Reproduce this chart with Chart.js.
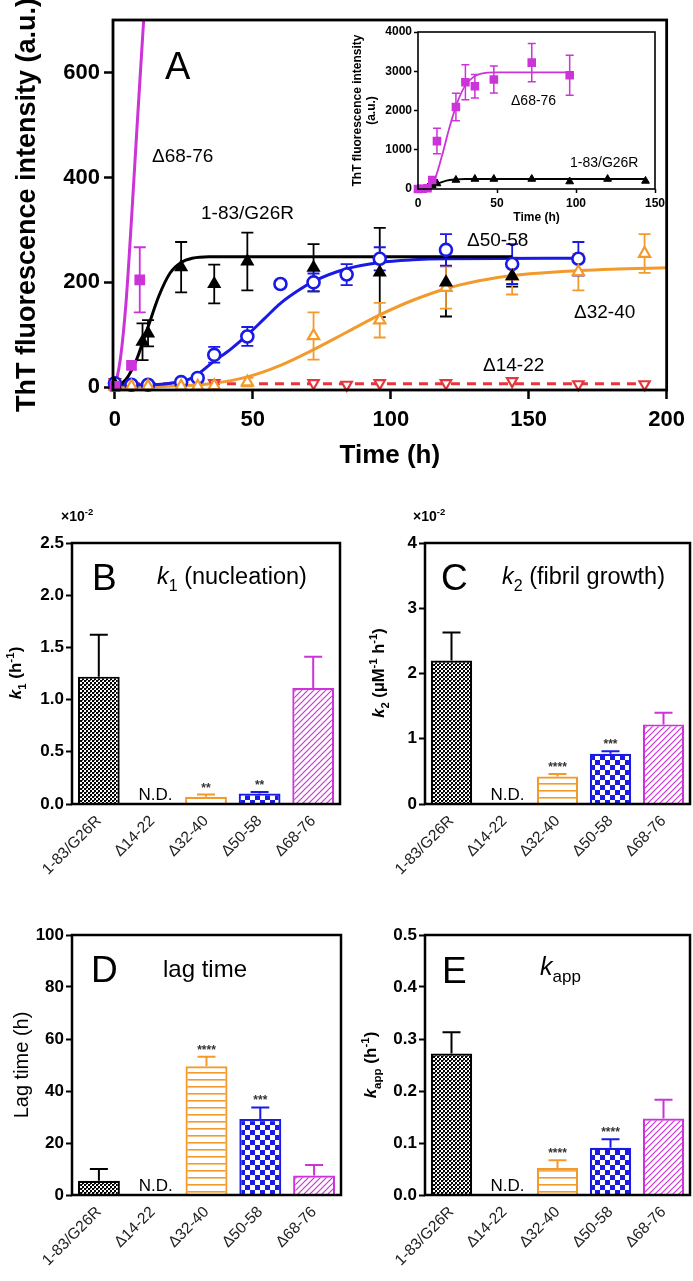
<!DOCTYPE html>
<html><head><meta charset="utf-8">
<script src="https://cdn.jsdelivr.net/npm/chart.js@4.4.1/dist/chart.umd.min.js"></script>
<style>
html,body{margin:0;padding:0;background:#fff;width:693px;height:1281px;overflow:hidden;position:relative;}
canvas{position:absolute;}
</style></head><body>
<canvas id="cA" width="693" height="480" style="left:0;top:0"></canvas>
<canvas id="cIn" width="363" height="235" style="left:330px;top:0"></canvas>
<canvas id="cB" width="346" height="385" style="left:0;top:500px"></canvas>
<canvas id="cC" width="348" height="385" style="left:345px;top:500px"></canvas>
<canvas id="cD" width="346" height="401" style="left:0;top:880px"></canvas>
<canvas id="cE" width="348" height="401" style="left:345px;top:880px"></canvas>
<script>
// ================= DATA =================
// Panel A main plot
const aXTicks = [0, 50, 100, 150, 200];
const aYTicks = [0, 200, 400, 600];

const g26rT = [0, 10, 12, 24, 36, 48, 72, 96, 120, 144];
const g26rY = [5, 87, 103, 229, 197, 240, 228, 219, 200, 212];
const g26rE = [3, 35, 25, 48, 37, 55, 45, 85, 65, 20];
const g26rFitT = [0, 4, 8, 10, 12, 16, 20, 24, 28, 34, 144];
const g26rFitY = [0, 15, 55, 85, 115, 175, 218, 238, 246, 249, 249];

const d5058T = [0, 6, 12, 24, 30, 36, 48, 60, 72, 84, 96, 120, 144, 168];
const d5058Y = [8, 5, 5, 10, 18, 62, 97, 197, 200, 215, 245, 262, 235, 245];
const d5058E = [0, 0, 0, 0, 0, 15, 18, 6, 17, 20, 22, 30, 38, 32];
const d5058FitT = [0, 10, 20, 28, 36, 42, 48, 54, 60, 66, 72, 84, 96, 108, 120, 168];
const d5058FitY = [5, 5, 8, 18, 50, 73, 100, 130, 160, 183, 202, 226, 238, 243, 245, 246];

const d3240T = [0, 6, 12, 24, 30, 36, 48, 72, 96, 120, 144, 168, 192];
const d3240Y = [2, 2, 2, 2, 2, 3, 10, 98, 128, 190, 212, 220, 255];
const d3240E = [0, 0, 0, 0, 0, 0, 8, 45, 33, 40, 35, 35, 37];
const d3240FitT = [0, 24, 36, 48, 60, 72, 84, 96, 108, 120, 132, 144, 160, 180, 200];
const d3240FitY = [0, 3, 8, 20, 42, 72, 105, 138, 166, 188, 203, 213, 220, 225, 228];

const d1422T = [0, 36, 72, 84, 96, 120, 144, 168, 192];
const d1422Y = [10, 8, 8, 5, 8, 8, 12, 6, 6];
const d1422FitT = [0, 192];
const d1422FitY = [7, 7];

const d6876T = [0, 6, 9];
const d6876Y = [2, 42, 205];
const d6876E = [0, 0, 62];
const d6876FitT = [0, 2, 4, 6, 8, 10, 11.5];
const d6876FitY = [0, 55, 160, 320, 495, 665, 790];

// Panel A inset
const inXTicks = [0, 50, 100, 150];
const inYTicks = [0, 1000, 2000, 3000, 4000];
const inMagT = [0, 3, 6, 9, 12, 24, 30, 36, 48, 72, 96];
const inMagY = [0, 5, 20, 230, 1220, 2090, 2720, 2620, 2790, 3220, 2900];
const inMagE = [0, 0, 0, 0, 325, 350, 445, 300, 345, 490, 510];
const inMagFitT = [0, 5, 10, 15, 20, 25, 30, 35, 40, 50, 96];
const inMagFitY = [0, 40, 190, 820, 1580, 2220, 2640, 2850, 2940, 2970, 2970];
const inG26T = [0, 6, 9, 12, 24, 36, 48, 72, 96, 120, 144];
const inG26Y = [0, 30, 90, 140, 230, 254, 254, 254, 190, 254, 205];
const inG26FitT = [0, 6, 12, 18, 24, 30, 144];
const inG26FitY = [0, 30, 130, 215, 245, 255, 255];

// Panels B-E
const barLabels = ['1-83/G26R', 'Δ14-22', 'Δ32-40', 'Δ50-58', 'Δ68-76'];
const k1Vals = [1.22, null, 0.07, 0.10, 1.11];      // x10^-2 h^-1
const k1Errs = [0.40, null, 0.02, 0.015, 0.30];
const k1Sig  = ['', '', '**', '**', ''];
const k2Vals = [2.20, null, 0.42, 0.77, 1.22];      // x10^-2 uM^-1 h^-1
const k2Errs = [0.43, null, 0.04, 0.04, 0.18];
const k2Sig  = ['', '', '****', '***', ''];
const lagVals = [5.5, null, 49.5, 29.2, 7.5];       // h
const lagErrs = [4.5, null, 3.7, 4.5, 4.0];
const lagSig  = ['', '', '****', '***', ''];
const kappVals = [0.272, null, 0.052, 0.091, 0.147]; // h^-1
const kappErrs = [0.041, null, 0.015, 0.016, 0.036];
const kappSig  = ['', '', '****', '****', ''];
const k1Ticks = [0, 0.5, 1.0, 1.5, 2.0, 2.5];
const k2Ticks = [0, 1, 2, 3, 4];
const lagTicks = [0, 20, 40, 60, 80, 100];
const kappTicks = [0, 0.1, 0.2, 0.3, 0.4, 0.5];

// ================= HELPERS =================
const FONT = "'Liberation Sans', Arial, Helvetica, sans-serif";
const BLACK = '#000000', BLUE = '#1a1ae6', ORANGE = '#f39a2c', RED = '#e8343c', MAG = '#cc33d9';

function xy(t, y) { return t.map((v, i) => ({x: v, y: y[i]})); }

function richText(ctx, parts, x, y, size, o) {
  o = o || {};
  ctx.save();
  ctx.translate(x, y);
  if (o.rotate) ctx.rotate(-Math.PI / 2);
  ctx.fillStyle = o.color || '#000';
  ctx.textBaseline = 'alphabetic';
  ctx.textAlign = 'left';
  const segs = parts.map(p => {
    const sz = (p.sub || p.sup) ? size * 0.68 : size;
    const bold = p.b !== undefined ? p.b : !!o.bold;
    const f = (p.i ? 'italic ' : '') + (bold ? 'bold ' : '') + sz + 'px ' + FONT;
    ctx.font = f;
    return {t: p.t, f, w: ctx.measureText(p.t).width, dy: p.sub ? size * 0.28 : (p.sup ? -size * 0.42 : 0)};
  });
  const total = segs.reduce((a, s) => a + s.w, 0);
  let cx = o.align === 'center' ? -total / 2 : (o.align === 'right' ? -total : 0);
  segs.forEach(s => { ctx.font = s.f; ctx.fillText(s.t, cx, s.dy); cx += s.w; });
  ctx.restore();
}

const annotPlugin = {
  id: 'annot',
  afterDraw(chart, args, opts) {
    (opts.items || []).forEach(it => richText(chart.ctx, it.parts, it.x, it.y, it.size, it));
  }
};
const framePlugin = {
  id: 'frame',
  afterDatasetsDraw(chart, args, opts) {
    const {left, top, right, bottom} = chart.chartArea;
    const ctx = chart.ctx;
    ctx.save();
    ctx.lineWidth = opts.width || 2.5;
    ctx.strokeStyle = '#000';
    ctx.strokeRect(left, top, right - left, bottom - top);
    ctx.restore();
  }
};
const scatterErrPlugin = {
  id: 'serr',
  beforeDatasetsDraw(chart, args, opts) {
    const ctx = chart.ctx;
    chart.data.datasets.forEach((ds, di) => {
      if (!ds.errs) return;
      const meta = chart.getDatasetMeta(di);
      const xs = chart.scales[meta.xAxisID], ys = chart.scales[meta.yAxisID];
      ctx.save();
      ctx.strokeStyle = ds.borderColor;
      ctx.lineWidth = opts.lw || 1.8;
      const cap = opts.cap || 5;
      ds.data.forEach((p, i) => {
        const e = ds.errs[i];
        if (!e) return;
        const x = xs.getPixelForValue(p.x);
        const y1 = ys.getPixelForValue(p.y + e), y2 = ys.getPixelForValue(p.y - e);
        ctx.beginPath();
        ctx.moveTo(x, y1); ctx.lineTo(x, y2);
        ctx.moveTo(x - cap, y1); ctx.lineTo(x + cap, y1);
        ctx.moveTo(x - cap, y2); ctx.lineTo(x + cap, y2);
        ctx.stroke();
      });
      ctx.restore();
    });
  }
};
const barErrPlugin = {
  id: 'berr',
  afterDatasetsDraw(chart, args, opts) {
    const ctx = chart.ctx;
    const ds = chart.data.datasets[0];
    const meta = chart.getDatasetMeta(0);
    const ys = chart.scales.y, xs = chart.scales.x;
    ctx.save();
    ds.data.forEach((v, i) => {
      const xc = xs.getPixelForValue(i);
      if (v === null) {
        ctx.fillStyle = '#000';
        ctx.font = '17px ' + FONT;
        ctx.textAlign = 'center';
        ctx.textBaseline = 'alphabetic';
        ctx.fillText('N.D.', xc + 3, ys.getPixelForValue(0) - 4);
        return;
      }
      const bar = meta.data[i];
      const e = opts.errs[i];
      const yTop = ys.getPixelForValue(v), yE = ys.getPixelForValue(v + e);
      ctx.strokeStyle = ds.borderColor[i];
      ctx.lineWidth = 2;
      ctx.beginPath();
      ctx.moveTo(bar.x, yTop); ctx.lineTo(bar.x, yE);
      ctx.moveTo(bar.x - 9, yE); ctx.lineTo(bar.x + 9, yE);
      ctx.stroke();
      if (opts.sig[i]) {
        ctx.fillStyle = '#333';
        ctx.font = 'bold 12px ' + FONT;
        ctx.textAlign = 'center';
        ctx.textBaseline = 'alphabetic';
        ctx.fillText(opts.sig[i], bar.x, yE - 3);
      }
    });
    ctx.restore();
  }
};

function makePatterns(ctx) {
  function mk(w, h, draw) {
    const c = document.createElement('canvas'); c.width = w; c.height = h;
    const g = c.getContext('2d'); g.fillStyle = '#fff'; g.fillRect(0, 0, w, h); draw(g);
    return ctx.createPattern(c, 'repeat');
  }
  return [
    mk(4, 4, g => { g.fillStyle = '#000'; g.fillRect(0, 0, 2, 2); g.fillRect(2, 2, 2, 2); g.fillStyle = '#555'; g.fillRect(2, 0, 1, 1); }),
    '#fff',
    mk(6, 7, g => { g.fillStyle = ORANGE; g.fillRect(0, 3, 6, 1.6); }),
    mk(10, 10, g => { g.fillStyle = BLUE; g.fillRect(0, 0, 5, 5); g.fillRect(5, 5, 5, 5); }),
    mk(6, 6, g => { g.strokeStyle = MAG; g.lineWidth = 1.2; g.beginPath(); g.moveTo(-1, 7); g.lineTo(7, -1); g.moveTo(-1, 1); g.lineTo(1, -1); g.moveTo(5, 7); g.lineTo(7, 5); g.stroke(); })
  ];
}

Chart.defaults.font.family = FONT;
Chart.defaults.color = '#000';
Chart.defaults.animation = false;

function tickSetter(list) { return s => { s.ticks = list.map(v => ({value: v})); }; }
const plainNum = v => String(v);

// ================= PANEL A =================
function lineDs(t, y, color, extra) {
  return Object.assign({type: 'line', data: xy(t, y), borderColor: color, borderWidth: 3, pointRadius: 0,
    fill: false, cubicInterpolationMode: 'monotone', showLine: true}, extra || {});
}
function markDs(t, y, e, color, style, fillColor, extra) {
  return Object.assign({type: 'scatter', data: xy(t, y), errs: e, borderColor: color, backgroundColor: fillColor,
    pointStyle: style, pointRadius: 6, pointBorderWidth: 2.2, clip: false, showLine: false}, extra || {});
}

new Chart(document.getElementById('cA'), {
  type: 'scatter',
  data: {datasets: [
    markDs(d6876T, d6876Y, d6876E, MAG, 'rect', MAG, {pointRadius: 6}),
    markDs(g26rT, g26rY, g26rE, BLACK, 'triangle', BLACK, {pointRadius: 6}),
    markDs(d3240T, d3240Y, d3240E, ORANGE, 'triangle', '#fff', {pointRadius: 6.5}),
    markDs(d5058T, d5058Y, d5058E, BLUE, 'circle', '#fff', {pointRadius: 6, pointBorderWidth: 2.6}),
    markDs(d1422T, d1422Y, null, RED, 'triangle', '#fff', {rotation: 180, pointRadius: 6}),
    lineDs(d6876FitT, d6876FitY, MAG),
    lineDs(g26rFitT, g26rFitY, BLACK),
    lineDs(d5058FitT, d5058FitY, BLUE),
    lineDs(d3240FitT, d3240FitY, ORANGE),
    lineDs(d1422FitT, d1422FitY, RED, {borderDash: [9, 7], cubicInterpolationMode: 'default', tension: 0})
  ]},
  options: {
    responsive: false, devicePixelRatio: 1,
    layout: {padding: {left: 0, top: 20, right: 23, bottom: 0}},
    plugins: {legend: {display: false}, tooltip: {enabled: false},
      serr: {cap: 6, lw: 1.8},
      frame: {width: 2.8},
      annot: {items: [
        {parts: [{t: 'A'}], x: 165, y: 79, size: 38},
        {parts: [{t: 'Δ68-76'}], x: 152, y: 162, size: 19},
        {parts: [{t: '1-83/G26R'}], x: 201, y: 219, size: 19},
        {parts: [{t: 'Δ50-58'}], x: 467, y: 246, size: 19},
        {parts: [{t: 'Δ32-40'}], x: 574, y: 318, size: 19},
        {parts: [{t: 'Δ14-22'}], x: 483, y: 371, size: 19}
      ]}
    },
    scales: {
      x: {type: 'linear', min: -0.7, max: 200,
        afterBuildTicks: tickSetter(aXTicks),
        afterFit: s => { s.height = 90; },
        border: {display: false},
        grid: {drawOnChartArea: false, drawTicks: true, tickLength: 9, tickWidth: 2.5, tickColor: '#000'},
        ticks: {font: {size: 22, weight: 'bold'}, padding: 8, maxRotation: 0, color: '#000', callback: plainNum},
        title: {display: true, text: 'Time (h)', font: {size: 26, weight: 'bold'}, padding: {top: 0, bottom: 9}, color: '#000'}
      },
      y: {type: 'linear', min: -5, max: 700,
        afterBuildTicks: tickSetter(aYTicks),
        afterFit: s => { s.width = 113; },
        border: {display: false},
        grid: {drawOnChartArea: false, drawTicks: true, tickLength: 9, tickWidth: 2.5, tickColor: '#000'},
        ticks: {font: {size: 22, weight: 'bold'}, padding: 4, color: '#000', callback: plainNum},
        title: {display: true, text: 'ThT fluorescence intensity (a.u.)', font: {size: 27, weight: 'bold'}, padding: {top: 11, bottom: 0}, color: '#000'}
      }
    }
  },
  plugins: [scatterErrPlugin, framePlugin, annotPlugin]
});

// ================= INSET =================
new Chart(document.getElementById('cIn'), {
  type: 'scatter',
  data: {datasets: [
    markDs(inMagT, inMagY, inMagE, MAG, 'rect', MAG, {pointRadius: 4.5, clip: false}),
    markDs(inG26T, inG26Y, null, BLACK, 'triangle', BLACK, {pointRadius: 4.5, pointBorderWidth: 1}),
    lineDs(inMagFitT, inMagFitY, MAG, {borderWidth: 1.8}),
    lineDs(inG26FitT, inG26FitY, BLACK, {borderWidth: 1.8})
  ]},
  options: {
    responsive: false, devicePixelRatio: 1,
    layout: {padding: {left: 0, top: 32, right: 38, bottom: 0}},
    plugins: {legend: {display: false}, tooltip: {enabled: false},
      serr: {cap: 4, lw: 1.5},
      frame: {width: 1.6},
      annot: {items: [
        {parts: [{t: 'Δ68-76'}], x: 181, y: 105, size: 14},
        {parts: [{t: '1-83/G26R'}], x: 240, y: 167, size: 14}
      ]}
    },
    scales: {
      x: {type: 'linear', min: 0, max: 150,
        afterBuildTicks: tickSetter(inXTicks),
        afterFit: s => { s.height = 46; },
        border: {display: false},
        grid: {drawOnChartArea: false, drawTicks: true, tickLength: 4, tickWidth: 1.5, tickColor: '#000'},
        ticks: {font: {size: 12, weight: 'bold'}, padding: 3, maxRotation: 0, color: '#000', callback: plainNum},
        title: {display: true, text: 'Time (h)', font: {size: 12, weight: 'bold'}, padding: {top: 0, bottom: 10}, color: '#000'}
      },
      y: {type: 'linear', min: 0, max: 4000,
        afterBuildTicks: tickSetter(inYTicks),
        afterFit: s => { s.width = 88; },
        border: {display: false},
        grid: {drawOnChartArea: false, drawTicks: true, tickLength: 4, tickWidth: 1.5, tickColor: '#000'},
        ticks: {font: {size: 12, weight: 'bold'}, padding: 2, color: '#000', callback: plainNum},
        title: {display: true, text: ['ThT fluorescence intensity', '(a.u.)'], font: {size: 12, weight: 'bold'}, padding: {top: 20, bottom: 0}, color: '#000'}
      }
    }
  },
  plugins: [scatterErrPlugin, framePlugin, annotPlugin]
});

// ================= BAR PANELS =================
function makeBar(id, vals, errs, sig, ticks, max, dec, yWidth, xHeight, pad, yTitle, items) {
  const el = document.getElementById(id);
  const pats = makePatterns(el.getContext('2d'));
  return new Chart(el, {
    type: 'bar',
    data: {labels: barLabels, datasets: [{
      data: vals,
      backgroundColor: pats,
      borderColor: [BLACK, BLACK, ORANGE, BLUE, MAG],
      borderWidth: 2.2, borderSkipped: 'bottom',
      barPercentage: 0.78, categoryPercentage: 1.0
    }]},
    options: {
      responsive: false, devicePixelRatio: 1,
      layout: {padding: pad},
      plugins: {legend: {display: false}, tooltip: {enabled: false},
        berr: {errs: errs, sig: sig},
        frame: {width: 2.5},
        annot: {items: items}
      },
      scales: {
        x: {
          afterFit: s => { s.height = xHeight; },
          border: {display: false},
          grid: {display: false},
          ticks: {font: {size: 15.5}, color: '#222', minRotation: 45, maxRotation: 45, padding: 0}
        },
        y: {min: 0, max: max,
          afterBuildTicks: tickSetter(ticks),
          afterFit: s => { s.width = yWidth; },
          border: {display: false},
          grid: {drawOnChartArea: false, drawTicks: true, tickLength: 6, tickWidth: 2, tickColor: '#000'},
          ticks: {font: {size: 17, weight: 'bold'}, padding: 2, color: '#000', callback: v => dec ? v.toFixed(dec) : String(v)},
          title: yTitle
        }
      }
    },
    plugins: [barErrPlugin, framePlugin, annotPlugin]
  });
}

// B
makeBar('cB', k1Vals, k1Errs, k1Sig, k1Ticks, 2.5, 1, 72, 81, {left: 0, top: 43, right: 6, bottom: 0}, {display: false}, [
  {parts: [{t: '×10', b: true}, {t: '-2', sup: true, b: true}], x: 61, y: 21, size: 14},
  {parts: [{t: 'B'}], x: 92, y: 90, size: 37},
  {parts: [{t: 'k', i: true}, {t: '1', sub: true}, {t: ' (nucleation)'}], x: 157, y: 84, size: 23.5},
  {parts: [{t: 'k', i: true}, {t: '1', sub: true}, {t: ' (h'}, {t: '-1', sup: true}, {t: ')'}], x: 21, y: 173, size: 17, rotate: true, align: 'center', bold: true}
]);
// C
makeBar('cC', k2Vals, k2Errs, k2Sig, k2Ticks, 4, 0, 80, 81, {left: 0, top: 43, right: 3, bottom: 0}, {display: false}, [
  {parts: [{t: '×10', b: true}, {t: '-2', sup: true, b: true}], x: 68, y: 21, size: 14},
  {parts: [{t: 'C'}], x: 96, y: 90, size: 37},
  {parts: [{t: 'k', i: true}, {t: '2', sub: true}, {t: ' (fibril growth)'}], x: 157, y: 84, size: 23.5},
  {parts: [{t: 'k', i: true}, {t: '2', sub: true}, {t: ' (μM'}, {t: '-1', sup: true}, {t: ' h'}, {t: '-1', sup: true}, {t: ')'}], x: 39, y: 173, size: 16.5, rotate: true, align: 'center', bold: true}
]);
// D
makeBar('cD', lagVals, lagErrs, lagSig, lagTicks, 100, 0, 72, 86, {left: 0, top: 55, right: 5, bottom: 0},
  {display: true, text: 'Lag time (h)', font: {size: 20}, padding: {top: 10, bottom: 0}, color: '#000'}, [
  {parts: [{t: 'D'}], x: 91, y: 102, size: 37},
  {parts: [{t: 'lag time'}], x: 163, y: 97, size: 24}
]);
// E
makeBar('cE', kappVals, kappErrs, kappSig, kappTicks, 0.5, 1, 80, 86, {left: 0, top: 55, right: 3, bottom: 0}, {display: false}, [
  {parts: [{t: 'E'}], x: 97, y: 103, size: 37},
  {parts: [{t: 'k', i: true}, {t: 'app', sub: true}], x: 195, y: 95, size: 25},
  {parts: [{t: 'k', i: true}, {t: 'app', sub: true}, {t: ' (h'}, {t: '-1', sup: true}, {t: ')'}], x: 31, y: 185, size: 17, rotate: true, align: 'center', bold: true}
]);
</script>
</body></html>
